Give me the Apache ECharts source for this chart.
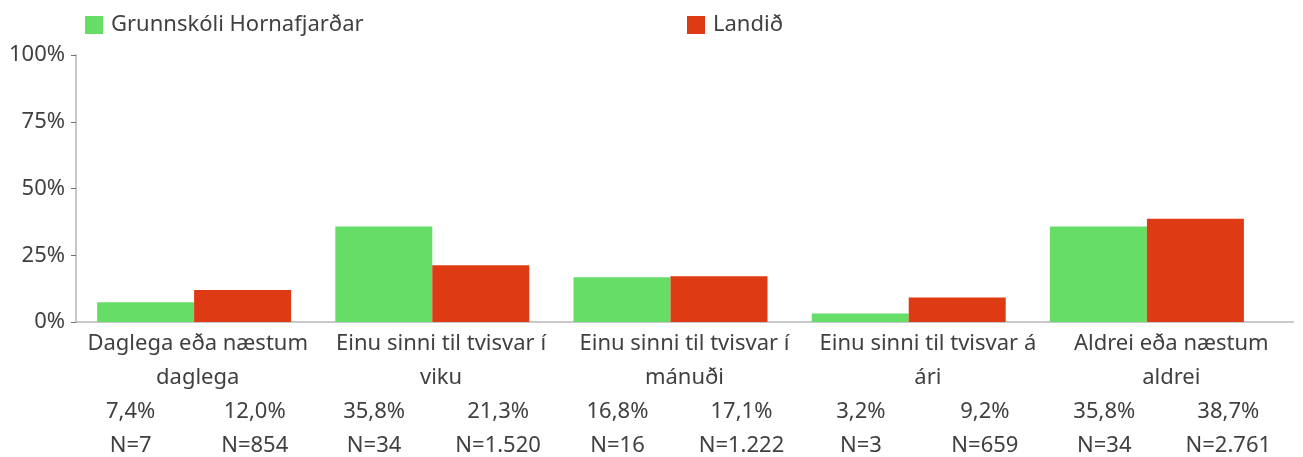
<!DOCTYPE html>
<html>
<head>
<meta charset="utf-8">
<script src="https://cdn.jsdelivr.net/npm/echarts@6/dist/echarts.min.js"></script>
<style>
  html, body { margin: 0; padding: 0; background: #ffffff; }
  #chart { width: 1303px; height: 457px; }
</style>
</head>
<body>
<div id="chart"></div>
<script>
// Category names (two lines each) and the two groups being compared
const categories = [
  'Daglega eða næstum\ndaglega',
  'Einu sinni til tvisvar í\nviku',
  'Einu sinni til tvisvar í\nmánuði',
  'Einu sinni til tvisvar á\nári',
  'Aldrei eða næstum\naldrei'
];
const seriesNames = ['Grunnskóli Hornafjarðar', 'Landið'];

// Shares in percent
const schoolValues = [7.4, 35.8, 16.8, 3.2, 35.8];
const nationalValues = [12.0, 21.3, 17.1, 9.2, 38.7];

// Respondent counts shown under each category
const schoolN = ['7', '34', '16', '3', '34'];
const nationalN = ['854', '1.520', '1.222', '659', '2.761'];

// Y axis ticks
const yTicks = [0, 25, 50, 75, 100];

const GREEN = '#66dd66';
const RED = '#de3a14';
const TEXT = '#404040';
const FONT = 'Noto Sans';
const FS = 22;

function pct(v) {
  return v.toFixed(1).replace('.', ',') + '%';
}

const chart = echarts.init(document.getElementById('chart'), null, { renderer: 'canvas' });

chart.setOption({
  backgroundColor: '#ffffff',
  animation: false,
  textStyle: { fontFamily: FONT, color: TEXT },
  legend: [
    {
      data: [seriesNames[0]],
      left: 80, top: 9,
      icon: 'rect', itemWidth: 18, itemHeight: 18,
      textStyle: { fontFamily: FONT, fontSize: FS, color: TEXT, padding: [0, 0, 0, 3] }
    },
    {
      data: [seriesNames[1]],
      left: 682, top: 9,
      icon: 'rect', itemWidth: 18, itemHeight: 18,
      textStyle: { fontFamily: FONT, fontSize: FS, color: TEXT, padding: [0, 0, 0, 3] }
    }
  ],
  grid: [
    // axes and category labels
    { left: 76, right: 10, top: 55, bottom: 135, outerBoundsMode: 'none', containLabel: false },
    // bars
    { left: 75, right: 37, top: 55, bottom: 135, outerBoundsMode: 'none', containLabel: false }
  ],
  xAxis: [
    {
      type: 'category',
      gridIndex: 0,
      data: categories,
      axisLine: { lineStyle: { color: '#c8c8c8', width: 2 } },
      axisTick: { show: false },
      axisLabel: {
        interval: 0,
        margin: 5,
        color: TEXT,
        fontFamily: FONT,
        fontSize: FS,
        lineHeight: 34,
        formatter: function (value, idx) {
          const lines = value.split('\n');
          return '{c|' + lines[0] + '}\n{c|' + lines[1] + '}\n' +
            '{l|' + pct(schoolValues[idx]) + '}{r|' + pct(nationalValues[idx]) + '}\n' +
            '{l|N=' + schoolN[idx] + '}{r|N=' + nationalN[idx] + '}';
        },
        rich: {
          c: { fontFamily: FONT, fontSize: FS, color: TEXT, lineHeight: 34, align: 'center' },
          l: { fontFamily: FONT, fontSize: FS, color: TEXT, lineHeight: 34, width: 114, align: 'center' },
          r: { fontFamily: FONT, fontSize: FS, color: TEXT, lineHeight: 34, width: 134, align: 'center' }
        }
      }
    },
    {
      type: 'category',
      gridIndex: 1,
      data: categories,
      show: false
    }
  ],
  yAxis: [
    {
      type: 'value',
      gridIndex: 0,
      min: yTicks[0],
      max: yTicks[yTicks.length - 1],
      interval: 25,
      splitLine: { show: false },
      axisLine: { show: true, lineStyle: { color: '#c8c8c8', width: 2 } },
      axisTick: { show: true, length: 5, lineStyle: { color: '#707070', width: 1 } },
      axisLabel: {
        margin: 11,
        color: TEXT,
        fontFamily: FONT,
        fontSize: FS,
        formatter: '{value}%'
      }
    },
    {
      type: 'value',
      gridIndex: 1,
      min: yTicks[0],
      max: yTicks[yTicks.length - 1],
      interval: 25,
      show: false
    }
  ],
  series: [
    {
      name: seriesNames[0],
      type: 'bar',
      xAxisIndex: 1,
      yAxisIndex: 1,
      data: schoolValues,
      barWidth: 97,
      barGap: '0%',
      itemStyle: { color: GREEN },
      z: 3
    },
    {
      name: seriesNames[1],
      type: 'bar',
      xAxisIndex: 1,
      yAxisIndex: 1,
      data: nationalValues,
      barWidth: 97,
      barGap: '0%',
      itemStyle: { color: RED },
      z: 3
    }
  ]
});
</script>
</body>
</html>
